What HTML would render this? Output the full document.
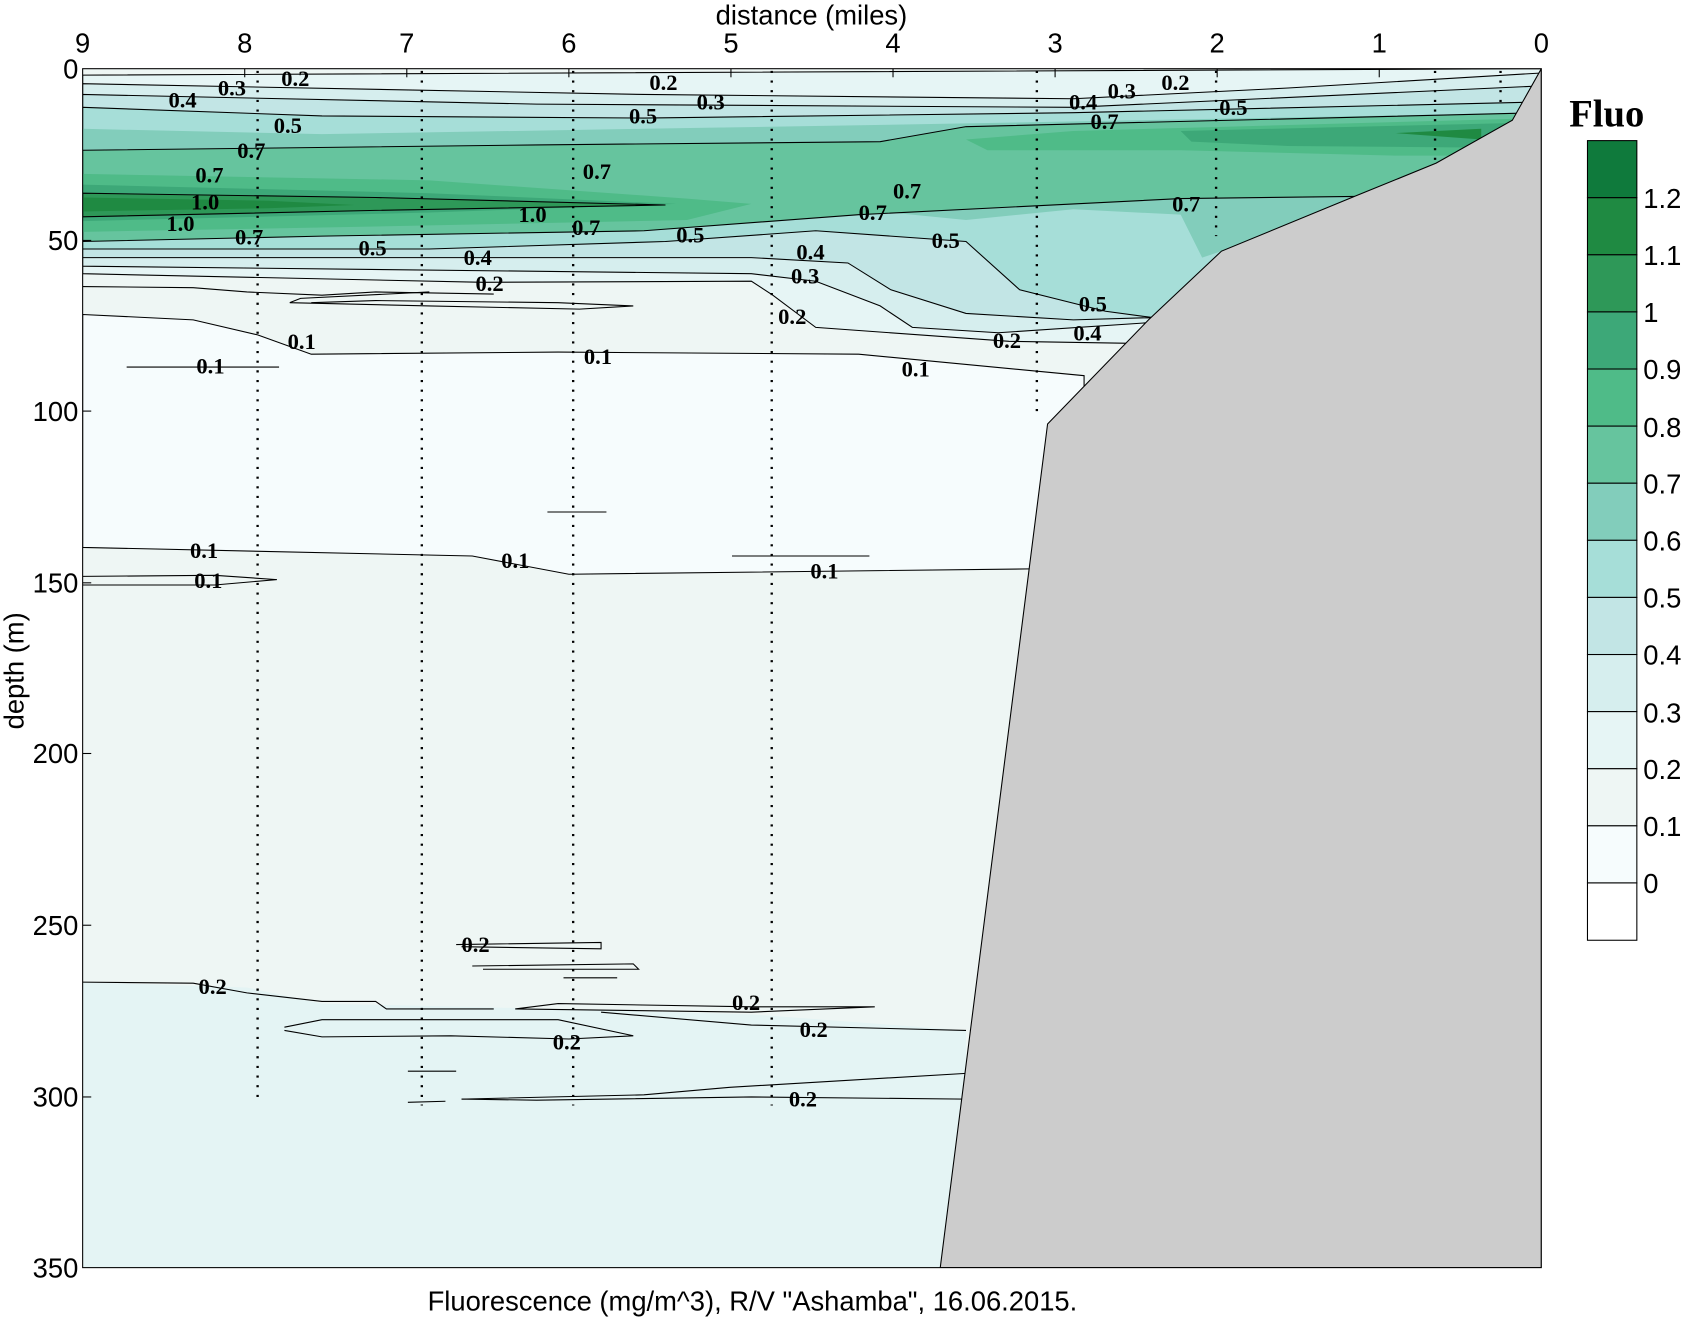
<!DOCTYPE html>
<html><head><meta charset="utf-8"><style>
html,body{margin:0;padding:0;background:#fff;width:1683px;height:1317px;overflow:hidden}
svg{display:block}
.ax{font-family:"Liberation Sans",sans-serif;font-size:25.5px;fill:#000}
.lb{font-family:"Liberation Serif",serif;font-size:21px;font-weight:bold;fill:#000}
.c{fill:none;stroke:#000;stroke-width:1}
.dt{stroke:#000;stroke-width:2.2;stroke-dasharray:2 7}
</style></head><body>
<svg width="1683" height="1317" viewBox="0 0 1568 1227" preserveAspectRatio="none" xmlns="http://www.w3.org/2000/svg">
<defs><clipPath id="pc"><rect x="77" y="64" width="1359" height="1117"/></clipPath></defs>
<g clip-path="url(#pc)">
<rect x="77" y="64" width="1359" height="1117" fill="#eef6f4"/>
<g stroke="#000" stroke-width="1">
<!-- 0-0.1 -->
<path d="M77,293 L180,298 L240,312 L290,330 L520,328 L800,330 L1010,350 L1010,530 L960,530 L530,535 L440,518 L77,510 Z" fill="#f6fcfd"/>
<!-- deep 0.2-0.3 -->
<path d="M77,915 L230,920 L300,935 L520,940 L700,945 L900,960 L900,1181 L77,1181 Z" fill="#e4f4f4" stroke="none"/>
<!-- >=0.2 -->
<path d="M77,70 L1436,64 L1436,300 L1060,320 L940,318 L760,305 L720,275 L700,262 L450,263 L77,255 Z" fill="#e6f5f5"/>
<!-- >=0.3 -->
<path d="M77,78 L600,88 L1000,92 L1200,82 L1436,68 L1436,300 L1080,300 L930,310 L850,305 L820,285 L760,262 L700,255 L77,248 Z" fill="#d6eeee"/>
<!-- >=0.4 -->
<path d="M77,88 L500,97 L1000,100 L1436,80 L1436,300 L1070,296 L1000,298 L900,292 L830,270 L790,245 L700,240 L77,240 Z" fill="#c2e5e5"/>
<!-- >=0.5 -->
<path d="M77,100 L300,108 L600,110 L1000,105 L1436,95 L1436,300 L1075,296 L1030,290 L950,270 L900,225 L760,215 L620,225 L400,232 L77,232 Z" fill="#a6ded8"/>
<!-- >=0.6 -->
<path d="M77,120 L300,125 L600,120 L900,115 L1436,105 L1436,300 L1138,234 L1120,240 L1100,200 L1000,195 L900,205 L800,195 L700,200 L400,218 L77,222 Z" fill="#82cdbb" stroke="none"/>
<!-- >=0.7 -->
<path d="M77,140 L500,135 L820,132 L900,118 L1436,105 L1436,300 L1262,183 L1100,185 L800,200 L600,215 L300,220 L77,225 Z" fill="#66c49e"/>
<!-- >=0.8 -->
<path d="M77,162 L400,168 L640,185 L700,190 L640,205 L300,212 L77,216 Z" fill="#4fbb88" stroke="none"/>
<path d="M900,130 L1000,122 L1436,110 L1436,145 L1300,145 L1100,140 L920,140 Z" fill="#4fbb88" stroke="none"/>
<!-- >=0.9 -->
<path d="M77,172 L400,180 L630,190 L400,198 L77,206 Z" fill="#3da878" stroke="none"/>
<path d="M1100,122 L1436,114 L1436,138 L1200,136 L1110,132 Z" fill="#3da878" stroke="none"/>
<!-- >=1.0 -->
<path d="M77,180 L350,184 L620,191 L350,196 L77,202 Z" fill="#2e9858"/>
<!-- >=1.1 -->
<path d="M77,184 L250,187 L330,191 L250,194 L77,197 Z" fill="#1f8a42" stroke="none"/>
<path d="M1300,124 L1380,120 L1380,130 Z" fill="#1f8a42" stroke="none"/>
</g>
<!-- extra contour lines -->
<polyline class="c" points="77,267 180,268 230,272 300,275 350,272 460,274"/>
<polyline class="c" points="290,282 350,280 520,282 590,285 540,288 400,285 270,282 280,278 400,272"/>
<polyline class="c" points="77,915 180,916 230,925 300,933 350,933 360,940 460,940"/>
<polyline class="c" points="265,957 300,950 520,950 590,965 530,968 420,965 300,966 265,960"/>
<polyline class="c" points="480,940 520,935 700,938 815,938 700,943 480,940"/>
<polyline class="c" points="560,943 700,955 900,960"/>
<polyline class="c" points="430,1024 600,1020 680,1013 900,1000"/>
<polyline class="c" points="430,1024 500,1025 700,1022 900,1024"/>
<polyline class="c" points="425,880 560,878 560,884 430,882"/>
<polyline class="c" points="440,900 590,898 595,903 450,903"/>
<polyline class="c" points="525,911 575,911"/>
<polyline class="c" points="380,998 425,998"/>
<polyline class="c" points="380,1027 415,1026"/>
<polyline class="c" points="118,342 260,342"/>
<polyline class="c" points="77,537 200,536 258,540 200,545 77,545"/>
<polyline class="c" points="510,477 565,477"/>
<polyline class="c" points="682,518 810,518"/>
<!-- stations -->
<line class="dt" x1="240" y1="66" x2="240" y2="1025"/>
<line class="dt" x1="393" y1="66" x2="393" y2="1030"/>
<line class="dt" x1="534" y1="66" x2="534" y2="1030"/>
<line class="dt" x1="719" y1="66" x2="719" y2="1030"/>
<line class="dt" x1="966" y1="66" x2="966" y2="385"/>
<line class="dt" x1="1133" y1="66" x2="1133" y2="220"/>
<line class="dt" x1="1337" y1="66" x2="1337" y2="150"/>
<line class="dt" x1="1398" y1="66" x2="1398" y2="100"/>
<!-- seabed -->
<path d="M1436,64 L1409,112 L1338,152 L1262,183 L1138,234 L1070,298 L976,395 L876,1181 L1436,1181 Z" fill="#cccccc" stroke="#000" stroke-width="1"/>
<!-- labels -->
<g class="lb">
<text x="262" y="80">0.2</text><text x="203" y="89">0.3</text><text x="157" y="100">0.4</text><text x="255" y="124">0.5</text>
<text x="221" y="147">0.7</text><text x="182" y="170">0.7</text><text x="178" y="195">1.0</text><text x="155" y="215">1.0</text>
<text x="219" y="228">0.7</text><text x="334" y="238">0.5</text><text x="432" y="247">0.4</text><text x="443" y="271">0.2</text>
<text x="605" y="84">0.2</text><text x="649" y="102">0.3</text><text x="586" y="115">0.5</text><text x="543" y="167">0.7</text>
<text x="483" y="207">1.0</text><text x="533" y="219">0.7</text><text x="630" y="226">0.5</text><text x="832" y="185">0.7</text>
<text x="800" y="205">0.7</text><text x="742" y="242">0.4</text><text x="737" y="264">0.3</text><text x="725" y="302">0.2</text>
<text x="868" y="231">0.5</text><text x="1005" y="290">0.5</text><text x="1000" y="317">0.4</text><text x="925" y="324">0.2</text>
<text x="268" y="325">0.1</text><text x="183" y="348">0.1</text><text x="544" y="339">0.1</text><text x="840" y="351">0.1</text>
<text x="177" y="520">0.1</text><text x="181" y="548">0.1</text><text x="467" y="529">0.1</text><text x="755" y="539">0.1</text>
<text x="430" y="887">0.2</text><text x="185" y="926">0.2</text><text x="682" y="941">0.2</text><text x="745" y="966">0.2</text>
<text x="515" y="978">0.2</text><text x="735" y="1031">0.2</text><text x="996" y="102">0.4</text><text x="1032" y="92">0.3</text>
<text x="1082" y="84">0.2</text><text x="1136" y="107">0.5</text><text x="1016" y="120">0.7</text><text x="1092" y="197">0.7</text>
</g>
</g>
<rect x="77" y="64" width="1359" height="1117" fill="none" stroke="#000" stroke-width="1"/>
<!-- ticks -->
<g stroke="#000" stroke-width="1">
<line x1="228" y1="64" x2="228" y2="72"/><line x1="379" y1="64" x2="379" y2="72"/><line x1="530" y1="64" x2="530" y2="72"/><line x1="681" y1="64" x2="681" y2="72"/><line x1="832" y1="64" x2="832" y2="72"/><line x1="983" y1="64" x2="983" y2="72"/><line x1="1134" y1="64" x2="1134" y2="72"/><line x1="1285" y1="64" x2="1285" y2="72"/>
<line x1="77" y1="224" x2="85" y2="224"/><line x1="77" y1="383" x2="85" y2="383"/><line x1="77" y1="543" x2="85" y2="543"/><line x1="77" y1="702" x2="85" y2="702"/><line x1="77" y1="862" x2="85" y2="862"/><line x1="77" y1="1022" x2="85" y2="1022"/>
</g>
<g class="ax" text-anchor="middle">
<text x="756" y="23">distance (miles)</text>
<text x="77" y="49">9</text><text x="228" y="49">8</text><text x="379" y="49">7</text><text x="530" y="49">6</text><text x="681" y="49">5</text><text x="832" y="49">4</text><text x="983" y="49">3</text><text x="1134" y="49">2</text><text x="1285" y="49">1</text><text x="1436" y="49">0</text>
<text x="701" y="1221">Fluorescence (mg/m^3), R/V "Ashamba", 16.06.2015.</text>
<text transform="translate(22,625) rotate(-90)">depth (m)</text>
</g>
<g class="ax" text-anchor="end">
<text x="73" y="73">0</text><text x="73" y="233">50</text><text x="73" y="392">100</text><text x="73" y="552">150</text><text x="73" y="711">200</text><text x="73" y="871">250</text><text x="73" y="1031">300</text><text x="73" y="1190">350</text>
</g>
<!-- colorbar -->
<text x="1462" y="118" style="font-family:'Liberation Serif',serif;font-weight:bold;font-size:36px">Fluo</text>
<g stroke="#000" stroke-width="1">
<rect x="1479" y="131" width="46" height="53.2" fill="#0f7a3c"/>
<rect x="1479" y="184.2" width="46" height="53.2" fill="#1f8a42"/>
<rect x="1479" y="237.4" width="46" height="53.2" fill="#2e9858"/>
<rect x="1479" y="290.6" width="46" height="53.2" fill="#3da878"/>
<rect x="1479" y="343.8" width="46" height="53.2" fill="#4fbb88"/>
<rect x="1479" y="397" width="46" height="53.2" fill="#66c49e"/>
<rect x="1479" y="450.2" width="46" height="53.2" fill="#82cdbb"/>
<rect x="1479" y="503.4" width="46" height="53.2" fill="#a6ded8"/>
<rect x="1479" y="556.6" width="46" height="53.2" fill="#c2e5e5"/>
<rect x="1479" y="609.8" width="46" height="53.2" fill="#d6eeee"/>
<rect x="1479" y="663" width="46" height="53.2" fill="#e6f5f5"/>
<rect x="1479" y="716.2" width="46" height="53.2" fill="#eef6f4"/>
<rect x="1479" y="769.4" width="46" height="53.2" fill="#f6fcfd"/>
<rect x="1479" y="822.6" width="46" height="53.4" fill="#ffffff"/>
</g>
<g class="ax">
<text x="1531" y="194">1.2</text><text x="1531" y="247">1.1</text><text x="1531" y="300">1</text><text x="1531" y="353">0.9</text><text x="1531" y="407">0.8</text><text x="1531" y="460">0.7</text><text x="1531" y="513">0.6</text><text x="1531" y="566">0.5</text><text x="1531" y="619">0.4</text><text x="1531" y="673">0.3</text><text x="1531" y="726">0.2</text><text x="1531" y="779">0.1</text><text x="1531" y="832">0</text>
</g>
</svg>
</body></html>
